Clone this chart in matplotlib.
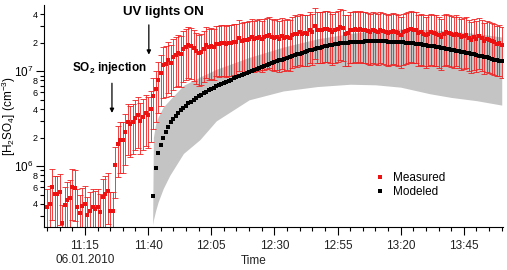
import numpy as np
import matplotlib
matplotlib.use("Agg")
import matplotlib.pyplot as plt
from matplotlib.lines import Line2D

plt.rcParams['font.family'] = ['Liberation Sans', 'DejaVu Sans']
plt.rcParams['mathtext.fontset'] = 'custom'
plt.rcParams['mathtext.rm'] = 'Liberation Sans'
plt.rcParams['mathtext.bf'] = 'Liberation Sans:bold'

# time axis: minutes after 11:00 on 06.01.2010
meas_minutes = np.arange(0, 181)
# measured [H2SO4], units of 1e6 cm-3
measured = [
    0.37, 0.40, 0.60, 0.51, 0.51, 0.53, 0.25, 0.39, 0.44, 0.46,
    0.60, 0.59, 0.37, 0.32, 0.38, 0.40, 0.305, 0.34, 0.37, 0.35,
    0.37, 0.33, 0.47, 0.51, 0.54, 0.34, 0.34, 1.02, 1.7, 1.9,
    1.9, 2.3, 2.9, 2.8, 2.95, 3.25, 3.45, 3.0, 3.3, 3.6,
    3.45, 4.0, 5.5, 6.5, 8.0, 9.5, 11.6, 12.0, 13.0, 12.2,
    14.0, 15.0, 15.7, 15.3, 17.0, 18.0, 19.0, 18.5, 17.5, 16.5,
    15.5, 16.0, 17.0, 18.8, 18.0, 18.5, 18.2, 19.6, 19.2, 19.8,
    20.0, 19.5, 19.8, 20.0, 20.2, 20.5, 22.5, 21.0, 21.5, 21.2,
    22.0, 23.0, 22.0, 22.5, 23.0, 22.0, 23.0, 23.5, 24.0, 23.0,
    22.5, 23.0, 22.0, 23.5, 22.5, 23.0, 22.6, 24.0, 25.0, 24.5,
    26.0, 25.0, 25.5, 25.0, 27.0, 26.0, 29.7, 27.0, 27.5, 27.0,
    28.0, 28.0, 27.0, 26.0, 27.5, 28.0, 29.0, 28.5, 25.0, 25.5,
    27.0, 27.5, 28.0, 27.0, 28.0, 27.5, 27.0, 26.5, 26.0, 27.0,
    26.5, 26.0, 27.0, 26.5, 26.0, 25.5, 26.0, 26.5, 26.0, 25.5,
    24.0, 26.0, 26.5, 27.0, 28.0, 27.5, 27.0, 25.5, 26.0, 25.0,
    24.0, 25.0, 26.0, 25.5, 25.0, 24.0, 23.0, 25.0, 26.0, 25.5,
    24.5, 24.0, 25.0, 24.0, 23.0, 23.5, 24.0, 22.5, 21.5, 23.0,
    22.0, 23.3, 22.5, 21.0, 22.0, 21.5, 21.0, 20.5, 19.6, 20.0,
    19.0,
]
meas_rel_err = 0.55  # relative uncertainty of the measurement

model_minutes = np.arange(42, 181)
modeled = [
    0.48, 0.96, 1.36, 1.68, 2.0, 2.3, 2.6, 2.9, 3.15, 3.4,
    3.65, 3.9, 4.1, 4.35, 4.6, 4.8, 5.0, 5.25, 5.45, 5.65,
    5.85, 6.05, 6.3, 6.5, 6.7, 6.95, 7.15, 7.35, 7.55, 7.75,
    7.95, 8.15, 8.4, 8.6, 8.85, 9.05, 9.3, 9.55, 9.8, 10.0,
    10.25, 10.5, 10.75, 11.0, 11.3, 11.55, 11.85, 12.1, 12.4, 12.7,
    13.0, 13.3, 13.6, 13.9, 14.2, 14.5, 14.8, 15.1, 15.4, 15.7,
    16.0, 16.3, 16.6, 16.9, 17.2, 17.5, 17.8, 18.1, 18.4, 18.6,
    18.85, 19.1, 19.3, 19.5, 19.65, 19.8, 19.95, 20.1, 20.2, 20.3,
    20.4, 20.5, 20.55, 20.6, 20.65, 20.7, 20.7, 20.75, 20.75, 20.75,
    20.7, 20.7, 20.65, 20.6, 20.55, 20.5, 20.45, 20.4, 20.3, 20.2,
    20.1, 20.0, 19.85, 19.7, 19.55, 19.4, 19.25, 19.1, 18.9, 18.7,
    18.5, 18.3, 18.1, 17.9, 17.7, 17.5, 17.3, 17.1, 16.9, 16.7,
    16.5, 16.3, 16.1, 15.9, 15.7, 15.5, 15.3, 15.05, 14.8, 14.6,
    14.4, 14.2, 14.0, 13.75, 13.5, 13.3, 13.1, 12.9, 12.7,
]

# model uncertainty band
band_minutes = [41.8, 42.1, 43, 44, 46, 48.6, 54, 60.5, 67, 80, 93.5, 107, 120, 130, 140, 151.5, 160, 170, 180]
band_low = [0.24, 0.27, 0.34, 0.42, 0.58, 0.8, 1.36, 1.9, 3.0, 5.0, 6.2, 6.9, 7.3, 7.2, 6.8, 5.8, 5.3, 4.9, 4.4]
band_high = [0.24, 2.0, 2.8, 3.3, 4.2, 5.0, 7.1, 8.7, 10.5, 14.0, 18.0, 22.0, 25.0, 27.0, 28.0, 27.5, 26.5, 25.0, 23.0]

tick_minutes = [15, 40, 65, 90, 115, 140, 165]
tick_labels = ["11:15\n06.01.2010", "11:40", "12:05", "12:30", "12:55", "13:20", "13:45"]


def main():
    fig = plt.figure(figsize=(5.07, 2.70), dpi=100)
    ax = fig.add_axes([44 / 507, 1 - 227 / 270, 459 / 507, 222 / 270])

    meas = np.array(measured) * 1e6
    mod = np.array(modeled) * 1e6

    ax.fill_between(band_minutes, np.array(band_low) * 1e6, np.array(band_high) * 1e6,
                    color="#c4c4c4", linewidth=0, zorder=1)
    ax.errorbar(meas_minutes, meas, yerr=meas * meas_rel_err, fmt="none",
                ecolor="#f02020", elinewidth=0.6, capsize=2.0, capthick=0.6, zorder=2)
    ax.plot(meas_minutes, meas, "s", color="#ee1111", markersize=3.4,
            markeredgewidth=0, zorder=3)
    ax.plot(model_minutes, mod, "s", color="black", markersize=3.0,
            markeredgewidth=0, zorder=4)

    ax.set_yscale("log")
    ax.set_xlim(-1.2, 180.5)
    ax.set_ylim(2.28e5, 5.0e7)

    for s in ["top", "right"]:
        ax.spines[s].set_visible(False)
    ax.spines["left"].set_linewidth(0.8)
    ax.spines["bottom"].set_linewidth(0.8)

    # x ticks
    ax.set_xticks(tick_minutes)
    ax.set_xticklabels(tick_labels, fontsize=8.5, color="#222222")
    ax.set_xticks(np.arange(0, 181, 5), minor=True)
    ax.tick_params(axis="x", which="major", length=6, width=0.8, pad=3.5)
    ax.tick_params(axis="x", which="minor", length=3, width=0.8)

    # y ticks
    ax.set_yticks([1e6, 1e7])
    ax.set_yticklabels(["$10^6$", "$10^7$"], fontsize=8.5)
    ymin = [3e5, 4e5, 5e5, 6e5, 7e5, 8e5, 9e5,
            2e6, 3e6, 4e6, 5e6, 6e6, 7e6, 8e6, 9e6,
            2e7, 3e7, 4e7]
    ymin_lab = ["", "4", "", "6", "", "8", "",
                "2", "", "4", "", "6", "", "8", "",
                "2", "", "4"]
    ax.set_yticks(ymin, minor=True)
    ax.set_yticklabels(ymin_lab, minor=True, fontsize=6.5)
    ax.tick_params(axis="y", which="major", length=6, width=0.8, pad=1.5)
    ax.tick_params(axis="y", which="minor", length=3, width=0.8, pad=1.5)

    ax.set_xlabel("Time", fontsize=8.5, color="#222222")
    ax.xaxis.set_label_coords(210 / 459, -0.128)
    ax.set_ylabel("[H$_2$SO$_4$] (cm$^{-3}$)", fontsize=8.5)
    ax.yaxis.set_label_coords(-26 / 459, 0.5)

    # annotations
    fig.text(163 / 507, 1 - 12 / 270, "UV lights ON", fontsize=9.5, fontweight="bold",
             ha="center", va="center")
    fig.text(109 / 507, 1 - 68 / 270, "SO$_\\mathbf{2}$ injection", fontsize=8.5,
             fontweight="bold", ha="center", va="center")
    arrow = dict(arrowstyle="-|>", color="black", lw=0.9, mutation_scale=6)
    ax.annotate("", xy=(40.3, 1.4e7), xytext=(40.3, 3.3e7), arrowprops=arrow)
    ax.annotate("", xy=(25.7, 3.4e6), xytext=(25.7, 8.0e6), arrowprops=arrow)

    handles = [
        Line2D([], [], marker="s", linestyle="none", color="#ee1111", markersize=3.4,
               markeredgewidth=0, label="Measured"),
        Line2D([], [], marker="s", linestyle="none", color="black", markersize=3.0,
               markeredgewidth=0, label="Modeled"),
    ]
    ax.legend(handles=handles, loc="upper left", bbox_to_anchor=(368 / 507, 1 - 166 / 270),
              bbox_transform=fig.transFigure, frameon=False, fontsize=8.5,
              handlelength=1.0, handletextpad=0.6, labelspacing=0.15, borderpad=0)

    fig.savefig("out.png", dpi=100)


main()
